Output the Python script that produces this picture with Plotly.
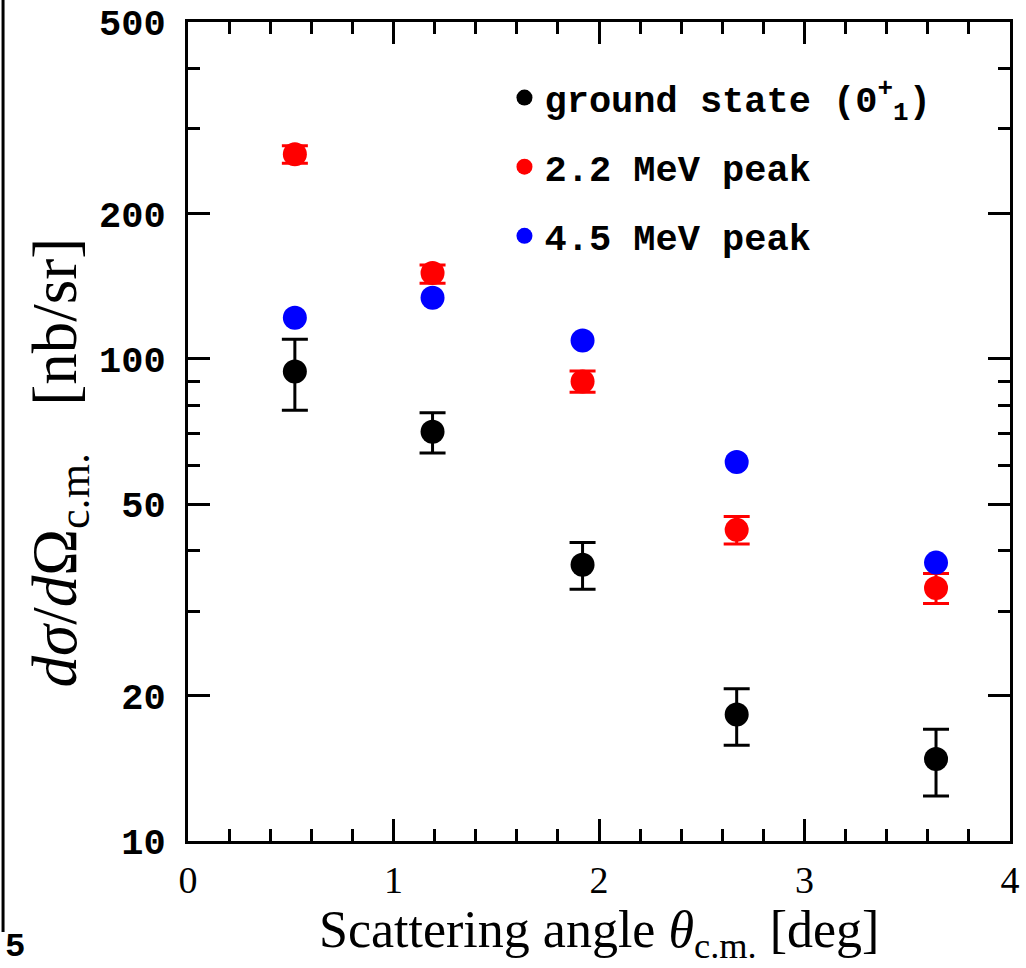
import plotly.graph_objects as go

# ---- data ----
angle = [0.52, 1.19, 1.92, 2.67, 3.64]

gs_val = [94.2, 70.6, 37.4, 18.3, 14.8]
gs_hi = [109.9, 77.3, 41.6, 20.7, 17.05]
gs_lo = [78.3, 63.8, 33.3, 15.8, 12.4]

p22_val = [265.9, 150.7, 89.8, 44.2, 33.5]
p22_hi = [277.0, 156.7, 94.4, 47.1, 35.9]
p22_lo = [254.7, 143.6, 85.3, 41.3, 31.1]

p45_val = [121.8, 134.0, 109.2, 61.1, 37.8]
p45_hi = [123.5, 135.9, 110.7, 62.0, 38.3]
p45_lo = [120.1, 132.1, 107.7, 60.2, 37.3]

series = [
    ("ground state (0<sup>+</sup><sub>1</sub>)", "black", gs_val, gs_hi, gs_lo, 13),
    ("2.2 MeV peak", "#ff0000", p22_val, p22_hi, p22_lo, 13),
    ("4.5 MeV peak", "#0000ff", p45_val, p45_hi, p45_lo, 10),
]

y_tickvals = [10, 20, 50, 100, 200, 500]
y_minor = [30, 40, 60, 70, 80, 90, 300, 400]
x_tickvals = [0, 1, 2, 3, 4]

fig = go.Figure()
for i, (name, col, v, hi, lo, capw) in enumerate(series):
    fig.add_trace(go.Scatter(
        x=angle, y=v, mode="markers", name=name,
        legendgroup=f"g{i}",
        marker=dict(color=col, size=24, line=dict(width=0)),
        error_y=dict(type="data", symmetric=False,
                     array=[h - a for h, a in zip(hi, v)],
                     arrayminus=[a - l for a, l in zip(v, lo)],
                     color=col, thickness=3, width=capw),
    ))

axis_common = dict(
    showline=True, linecolor="black", linewidth=3, mirror="ticks",
    ticks="inside", tickcolor="black", tickwidth=3, ticklen=22,
    showgrid=False, zeroline=False, automargin=False,
)

fig.update_xaxes(
    range=[0, 4], tickvals=x_tickvals, ticktext=[str(t) for t in x_tickvals],
    tickfont=dict(family="Liberation Serif", size=38, color="black"),
    ticklabelstandoff=3,
    minor=dict(dtick=0.2, ticks="inside", ticklen=12, tickwidth=3, tickcolor="black"),
    **axis_common,
)

fig.update_yaxes(
    type="log", range=[1, 2.69897],
    tickvals=y_tickvals, ticktext=[str(t) for t in y_tickvals],
    tickfont=dict(family="Liberation Mono", size=37, color="black", weight="bold"),
    ticklabelstandoff=12,
    minor=dict(tickvals=y_minor, ticks="inside", ticklen=12, tickwidth=3, tickcolor="black"),
    **axis_common,
)

# axis titles as annotations for precise placement
fig.add_annotation(
    text="<i>dσ</i>/<i>d</i>Ω<sub>c.m.</sub>   [nb/sr]",
    xref="paper", yref="paper", x=-0.156, y=0.462,
    xanchor="center", yanchor="middle", textangle=-90, showarrow=False,
    font=dict(family="Liberation Serif", size=63, color="black"),
)
fig.add_annotation(
    text="Scattering angle <i>θ</i><sub>c.m.</sub> [deg]",
    xref="paper", yref="paper", x=0.5, y=-0.1545,
    xanchor="center", yanchor="bottom", showarrow=False,
    font=dict(family="Liberation Serif", size=52, color="black"),
)

fig.update_layout(
    width=1026, height=968,
    margin=dict(l=188, r=16, t=22, b=127),
    paper_bgcolor="white", plot_bgcolor="white",
    showlegend=True,
    legend=dict(
        x=0.385, y=0.945, xanchor="left", yanchor="top",
        font=dict(family="Liberation Mono", size=37, color="black", weight="bold"),
        bgcolor="rgba(0,0,0,0)", borderwidth=0,
        traceorder="grouped", tracegroupgap=18,
        itemwidth=30,
    ),
)

# page-edge artifacts from the original crop
fig.add_shape(type="line", xref="paper", yref="paper",
              x0=-0.225, x1=-0.225, y0=-0.111, y1=1.03,
              line=dict(color="black", width=3))
fig.add_annotation(text="5", xref="paper", yref="paper", x=-0.2105, y=-0.13,
                   xanchor="center", yanchor="middle", showarrow=False,
                   font=dict(family="Liberation Mono", size=34, color="black", weight="bold"))

fig.write_html("out.html")
